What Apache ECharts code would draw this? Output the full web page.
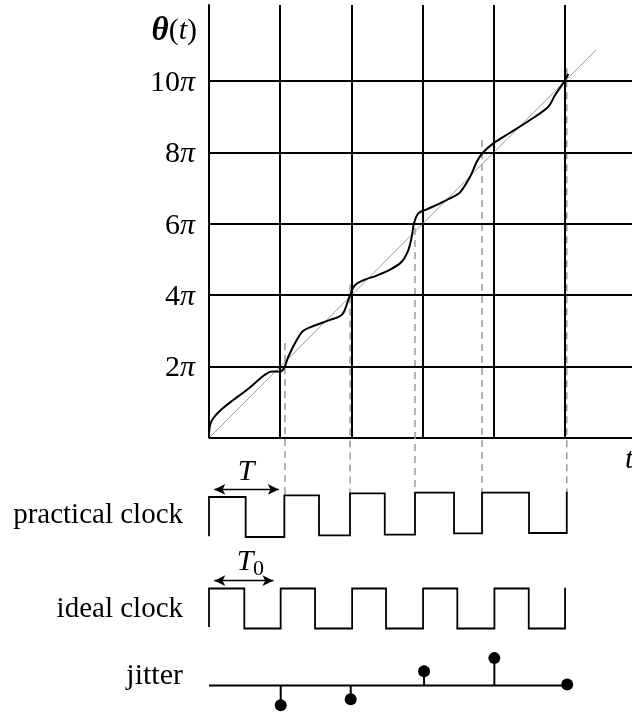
<!DOCTYPE html>
<html><head><meta charset="utf-8">
<script src="https://cdn.jsdelivr.net/npm/echarts@6/dist/echarts.min.js"></script>
<style>html,body{margin:0;padding:0;background:#fff}#c{width:632px;height:715px}</style>
</head><body><div id="c"></div>
<script>
const SERIF = '"Liberation Serif","Times New Roman",serif';

// y tick labels (multiples of π)
const yTicks = [2, 4, 6, 8, 10];

// θ(t): t in units of T0, θ in units of π
const thetaT = [0, 0.014, 0.060, 0.154, 0.341, 0.530, 0.670, 0.787, 0.881, 0.997, 1.035, 1.067, 1.114, 1.232, 1.324, 1.465, 1.653, 1.840, 1.896, 1.956, 1.990, 2.051, 2.167, 2.355, 2.542, 2.706, 2.799, 2.847, 2.879, 2.940, 3.058, 3.244, 3.431, 3.525, 3.666, 3.760, 3.844, 3.993, 4.228, 4.508, 4.765, 4.860, 4.986, 5.046];
const thetaPhase = [0, 0.364, 0.552, 0.765, 1.064, 1.345, 1.583, 1.775, 1.862, 1.857, 1.905, 2.017, 2.277, 2.745, 3.006, 3.137, 3.275, 3.417, 3.538, 3.866, 4.053, 4.286, 4.420, 4.550, 4.715, 4.938, 5.266, 5.639, 6.014, 6.294, 6.406, 6.574, 6.759, 6.880, 7.319, 7.739, 7.992, 8.255, 8.552, 8.908, 9.280, 9.608, 9.980, 10.196];

// ideal phase reference line (θ = 2π t/T0)
const idealLineT = [-0.15, 5.435];
const idealLinePhase = [-0.30, 10.87];

// dashed markers at practical clock rising edges
const dashT = [1.067, 1.98, 2.893, 3.834, 5.024];
const dashTop = [2.66, 4.3, 5.88, 8.35, 10.36];
const dashBottom = -1.6;

// practical clock (edges in T0 units, levels per segment)
const practicalEdges = [0, 0.515, 1.058, 1.545, 1.98, 2.468, 2.893, 3.441, 3.834, 4.494, 5.024];
const practicalLevels = [1.0, 0.0, 1.04, 0.04, 1.09, 0.06, 1.11, 0.09, 1.11, 0.10];
const practicalStart = 0.02, practicalEnd = 1.13;

// ideal clock
const idealEdges = [0, 0.496, 1.006, 1.489, 2.01, 2.486, 3.006, 3.487, 4.008, 4.49, 5.0];
const idealLevels = [1, 0, 1, 0, 1, 0, 1, 0, 1, 0];
const idealStart = 0.04, idealEnd = 1.02;

// jitter samples
const jitterT = [1.007, 1.99, 3.02, 4.007, 5.03];
const jitterVal = [-20, -14, 14.3, 27.7, 1];
const jitterBase = [0, 5.03];

function stepLine(edges, levels, start, end) {
  const pts = [[edges[0], start]];
  for (let i = 0; i < levels.length; i++) {
    pts.push([edges[i], levels[i]], [edges[i + 1], levels[i]]);
  }
  pts.push([edges[edges.length - 1], end]);
  return pts;
}

const chart = echarts.init(document.getElementById('c'));
const BLACK = '#000';
const hiddenX = i => ({gridIndex: i, type: 'value', min: 0, max: 5.94, show: false});

const series = [];
// horizontal grid lines
series.push({
  type: 'line', xAxisIndex: 0, yAxisIndex: 0, data: [], z: 1, silent: true,
  markLine: {
    silent: true, symbol: ['none', 'none'], label: {show: false},
    lineStyle: {color: BLACK, width: 2, type: 'solid'},
    emphasis: {disabled: true},
    data: yTicks.map(v => ({yAxis: v}))
  }
});
// diagonal
series.push({
  type: 'line', xAxisIndex: 0, yAxisIndex: 0, clip: false, z: 2, silent: true,
  showSymbol: false, lineStyle: {color: '#9a9a9a', width: 1},
  data: idealLineT.map((t, i) => [t, idealLinePhase[i]])
});
// dashed lines
dashT.forEach((t, i) => series.push({
  type: 'line', xAxisIndex: 0, yAxisIndex: 0, clip: false, z: 2, silent: true,
  showSymbol: false, lineStyle: {color: '#9a9a9a', width: 1.5, type: [7, 5]},
  data: [[t, dashTop[i]], [t, dashBottom]]
}));
// theta curve
series.push({
  type: 'line', xAxisIndex: 0, yAxisIndex: 0, z: 5, silent: true,
  showSymbol: false, smooth: 0.35,
  lineStyle: {color: BLACK, width: 2},
  data: thetaT.map((t, i) => [t, thetaPhase[i]])
});
// practical clock
series.push({
  type: 'line', xAxisIndex: 1, yAxisIndex: 1, clip: false, silent: true,
  showSymbol: false, lineStyle: {color: BLACK, width: 1.8, join: 'miter'},
  data: stepLine(practicalEdges, practicalLevels, practicalStart, practicalEnd),
  markLine: {
    silent: true, symbol: ['arrow', 'arrow'], symbolSize: [8, 11], label: {show: false},
    lineStyle: {color: BLACK, width: 1.3, type: 'solid'}, emphasis: {disabled: true},
    data: [[{coord: [0.075, 1.19]}, {coord: [0.98, 1.19]}]]
  }
});
// ideal clock
series.push({
  type: 'line', xAxisIndex: 2, yAxisIndex: 2, clip: false, silent: true,
  showSymbol: false, lineStyle: {color: BLACK, width: 1.8, join: 'miter'},
  data: stepLine(idealEdges, idealLevels, idealStart, idealEnd),
  markLine: {
    silent: true, symbol: ['arrow', 'arrow'], symbolSize: [8, 11], label: {show: false},
    lineStyle: {color: BLACK, width: 1.3, type: 'solid'}, emphasis: {disabled: true},
    data: [[{coord: [0.075, 1.195]}, {coord: [0.905, 1.195]}]]
  }
});
// jitter baseline
series.push({
  type: 'line', xAxisIndex: 3, yAxisIndex: 3, silent: true, showSymbol: false,
  lineStyle: {color: BLACK, width: 2},
  data: jitterBase.map(t => [t, 0])
});
// jitter stems
series.push({
  type: 'bar', xAxisIndex: 3, yAxisIndex: 3, silent: true, barWidth: 2,
  itemStyle: {color: BLACK, opacity: 1},
  data: jitterT.map((t, i) => [t, jitterVal[i]])
});
// jitter dots
series.push({
  type: 'scatter', xAxisIndex: 3, yAxisIndex: 3, silent: true, symbolSize: 12,
  itemStyle: {color: BLACK, opacity: 1}, z: 4,
  data: jitterT.map((t, i) => [t, jitterVal[i]])
});

function txt(text, x, y, align, font) {
  return {type: 'text', x: x, y: y, silent: true,
    style: {text: text, font: font, fill: BLACK, align: align, textAlign: align,
      verticalAlign: 'middle', textVerticalAlign: 'middle'}};
}

const option = {
  animation: false,
  backgroundColor: '#fff',
  grid: [
    {left: 209, top: 5, width: 423, height: 433},
    {left: 209, top: 477, width: 423, height: 60},
    {left: 209, top: 568.5, width: 423, height: 60},
    {left: 209, top: 646, width: 423, height: 70}
  ],
  xAxis: [
    {gridIndex: 0, type: 'value', min: 0, max: 5.94, interval: 1,
      axisLine: {show: true, onZero: false, lineStyle: {color: BLACK, width: 2}},
      axisTick: {show: false}, axisLabel: {show: false},
      splitLine: {show: true, showMinLine: false, showMaxLine: false, lineStyle: {color: BLACK, width: 2}}},
    hiddenX(1), hiddenX(2), hiddenX(3)
  ],
  yAxis: [
    {gridIndex: 0, type: 'value', min: 0, max: 12.13, interval: 2,
      axisLine: {show: true, onZero: false, lineStyle: {color: BLACK, width: 2}},
      axisTick: {show: false}, splitLine: {show: false},
      axisLabel: {
        margin: 14, color: BLACK,
        formatter: v => yTicks.some(t => Math.abs(t - v) < 1e-6) ? '{n|' + Math.round(v) + '}{p|π}' : '',
        rich: {
          n: {fontFamily: SERIF, fontSize: 30, color: BLACK, padding: [4, 0, 0, 0]},
          p: {fontFamily: SERIF, fontSize: 30, fontStyle: 'italic', color: BLACK, padding: [4, 0, 0, 0]}
        }
      }},
    {gridIndex: 1, type: 'value', min: 0, max: 1.5, show: false},
    {gridIndex: 2, type: 'value', min: 0, max: 1.5, show: false},
    {gridIndex: 3, type: 'value', min: -30, max: 40, show: false}
  ],
  graphic: [
    {type: 'text', x: 197, y: 31, silent: true,
      style: {text: '{a|θ}{b|(}{c|t}{b|)}', align: 'right', textAlign: 'right',
        verticalAlign: 'middle', textVerticalAlign: 'middle', fill: BLACK,
        rich: {
          a: {fontFamily: SERIF, fontSize: 33, fontStyle: 'italic', fontWeight: 'bold', color: BLACK},
          b: {fontFamily: SERIF, fontSize: 30, color: BLACK},
          c: {fontFamily: SERIF, fontSize: 30, fontStyle: 'italic', color: BLACK}
        }}},
    txt('t', 625, 460, 'left', 'italic 30px ' + SERIF),
    txt('T', 246, 472, 'center', 'italic 30px ' + SERIF),
    txt('T', 245, 562, 'center', 'italic 30px ' + SERIF),
    txt('0', 253, 569, 'left', '22px ' + SERIF),
    txt('practical clock', 183, 515, 'right', '29px ' + SERIF),
    txt('ideal clock', 183, 609, 'right', '29px ' + SERIF),
    txt('jitter', 183, 676, 'right', '30px ' + SERIF)
  ],
  series: series
};
chart.setOption(option);
</script>
</body></html>
